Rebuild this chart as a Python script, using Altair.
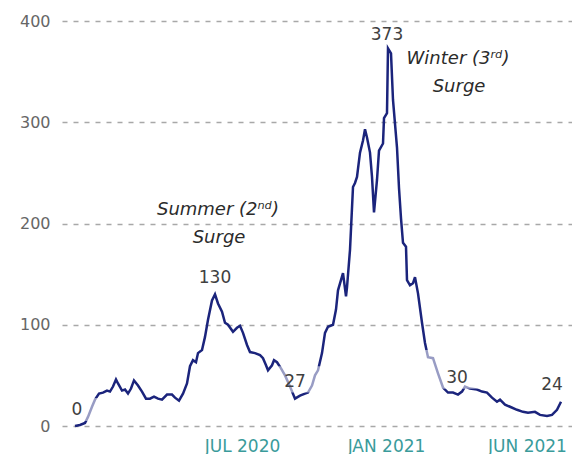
import altair as alt
import pandas as pd

START = pd.Timestamp("2020-03-01", tz="UTC")

# days after START, and the plotted value
day = [0, 5, 10, 13, 17, 20, 24, 28, 32, 35, 38, 41, 43, 47, 50, 53, 56, 59, 63, 67,
       71, 75, 79, 83, 87, 92, 97, 100, 104, 108, 112, 115, 118, 121, 123, 127, 130, 133,
       137, 140, 143, 147, 150, 153, 158, 162, 165, 168, 172, 175, 180, 185, 188, 191,
       193, 197, 199, 202, 206, 210, 215, 220, 225, 230, 233, 237, 240, 243, 247, 250,
       253, 258, 261, 263, 268, 271, 272, 275, 278, 280, 282, 285, 288, 290, 292, 295,
       297, 299, 302, 304, 308, 309, 312, 313, 316, 318, 322, 324, 326, 328, 331, 332,
       335, 338, 340, 343, 347, 350, 353, 358, 363, 368, 373, 378, 383, 387, 390, 395,
       402, 407, 412, 417, 422, 425, 430, 435, 442, 448, 453, 460, 465, 472, 477, 482, 486]
value = [0, 1, 3, 9, 19, 26, 32, 33, 35, 34, 39, 46, 42, 35, 36, 32, 37, 45, 40, 34,
         27, 27, 29, 27, 26, 31, 31, 28, 25, 32, 42, 59, 65, 63, 72, 75, 88, 105,
         124, 130, 121, 113, 102, 100, 93, 97, 99, 92, 80, 73, 72, 70, 67, 60,
         55, 60, 65, 63, 57, 50, 39, 27, 30, 32, 33, 40, 50, 55, 72, 92,
         98, 100, 115, 134, 151, 128, 137, 174, 236, 240, 246, 270, 282, 293, 285, 270,
         246, 211, 243, 272, 279, 304, 309, 373, 368, 322, 275, 235, 205, 181, 177, 144,
         139, 141, 147, 131, 102, 82, 68, 67, 52, 38, 33, 33, 31, 34, 39, 37,
         36, 34, 33, 28, 24, 26, 21, 19, 16, 14, 13, 14, 11, 10, 11, 16, 24]

# data labels
lab_text = ["0", "130", "27", "373", "30", "24"]
lab_day = [2, 140, 220, 312, 382, 477]
lab_value = [15.8, 146, 43.5, 386, 47.4, 40.5]

# label boxes (semi-transparent) that lighten the line underneath
box_day0 = [9, 202, 348]
box_day1 = [23, 247, 405]
box_v0 = [5, 33, 36.8]
box_v1 = [27.6, 59, 75]

# annotations
ann_text = ["Summer (2\u207f\u1d48)", "Surge", "Winter (3\u02b3\u1d48)", "Surge"]
ann_day = [143, 144, 383, 384]
ann_value = [213, 186, 362.5, 335]

# x axis
x_domain_days = [-13, 497]
xtick_days = [167, 311, 452]
xtick_text = ["JUL 2020", "JAN 2021", "JUN 2021"]
y_ticks = [0, 100, 200, 300, 400]


def ms(d):
    return int((START + pd.Timedelta(days=d)).timestamp() * 1000)


def iso(d):
    return (START + pd.Timedelta(days=d)).strftime("%Y-%m-%dT%H:%M:%SZ")


line_df = pd.DataFrame({"date": [iso(d) for d in day], "value": value})
lab_df = pd.DataFrame({"date": [iso(d) for d in lab_day], "value": lab_value, "text": lab_text})
box_df = pd.DataFrame({"d0": [iso(d) for d in box_day0], "d1": [iso(d) for d in box_day1],
                       "v0": box_v0, "v1": box_v1})
ann_df = pd.DataFrame({"date": [iso(d) for d in ann_day], "value": ann_value, "text": ann_text})

tick_ms = [ms(d) for d in xtick_days]
expr = "'" + xtick_text[-1] + "'"
for t, lab in reversed(list(zip(tick_ms[:-1], xtick_text[:-1]))):
    expr = f"(abs(datum.value - {t}) < 86400000 ? '{lab}' : {expr})"

xscale = alt.Scale(domain=[ms(x_domain_days[0]), ms(x_domain_days[1])])
yscale = alt.Scale(domain=[0, 400])

FONT = "DejaVu Sans"

x_enc = alt.X("date:T", scale=xscale, axis=alt.Axis(
    values=tick_ms, labelExpr=expr, title=None, grid=False, domain=False, ticks=False,
    tickSize=0, labelPadding=12, labelColor="#3a9b9b", labelFont=FONT, labelFontSize=17,
    labelAlign="center", labelBaseline="top"))
y_enc = alt.Y("value:Q", scale=yscale, axis=alt.Axis(
    values=y_ticks, title=None, domain=False, ticks=False, tickSize=0, labelPadding=12,
    labelColor="#666666", labelFont=FONT, labelFontSize=16,
    grid=True, gridColor="#a8a8a8", gridDash=[5, 6], gridWidth=1.6))

line = alt.Chart(line_df).mark_line(color="#1b247c", strokeWidth=2.5).encode(x=x_enc, y=y_enc)

boxes = alt.Chart(box_df).mark_rect(color="white", opacity=0.55).encode(
    x=alt.X("d0:T", scale=xscale), x2="d1:T",
    y=alt.Y("v0:Q", scale=yscale), y2="v1:Q")

labels = alt.Chart(lab_df).mark_text(
    font=FONT, fontSize=17, color="#404040", align="center", baseline="middle"
).encode(x=alt.X("date:T", scale=xscale), y=alt.Y("value:Q", scale=yscale), text="text:N")

ann = alt.Chart(ann_df).mark_text(
    font=FONT, fontSize=18, fontStyle="italic", color="#2b2b2b", align="center", baseline="middle"
).encode(x=alt.X("date:T", scale=xscale), y=alt.Y("value:Q", scale=yscale), text="text:N")

chart = alt.layer(line, boxes, labels, ann).properties(
    width=510, height=405,
    autosize=alt.AutoSizeParams(type="none"),
    padding={"left": 54, "top": 13, "right": 0, "bottom": 28},
).configure_view(stroke=None)

chart.save("out.html", embed_options={"renderer": "svg", "actions": False})
